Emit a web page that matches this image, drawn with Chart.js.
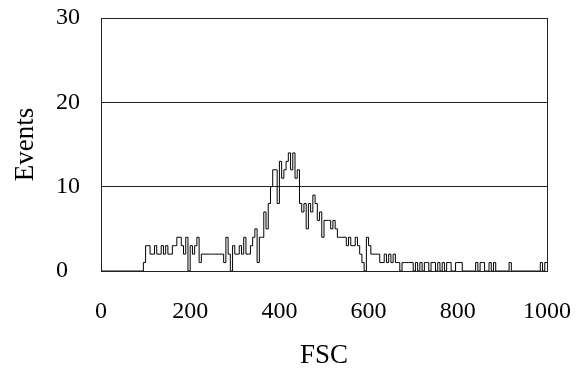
<!DOCTYPE html>
<html>
<head>
<meta charset="utf-8">
<script src="https://cdn.jsdelivr.net/npm/chart.js@4/dist/chart.umd.min.js"></script>
<style>
  html, body { margin: 0; padding: 0; background: #fff; }
  #wrap { width: 583px; height: 372px; }
</style>
</head>
<body>
<div id="wrap"><canvas id="grafico"></canvas></div>
<script>
// DADOS - contagens por canal de FSC (bins de 5 unidades, 0 a 1000)
const binWidth = 5;
const eventCounts = [
  // 0 - 95
  0,0,0,0,0,0,0,0,0,0,0,0,0,0,0,0,0,0,0,0,
  // 100 - 195
  1,3,3,2,2,3,2,2,3,2,3,2,2,3,3,4,4,3,2,4,
  // 200 - 295
  0,3,2,3,4,1,2,2,2,2,2,2,2,2,2,2,1,4,2,0,
  // 300 - 395
  3,2,2,3,2,4,2,2,3,4,5,1,4,4,7,5,8,10,12,12,
  // 400 - 495
  8,13,11,12,13,14,12,14,11,12,8,7,8,5,8,7,9,8,6,7,
  // 500 - 595
  4,6,6,6,5,6,5,4,4,4,4,3,4,3,3,4,3,2,1,0,
  // 600 - 695
  4,3,2,2,2,2,1,1,2,1,2,1,2,1,1,0,1,1,1,1,
  // 700 - 795
  1,0,1,0,1,0,1,1,0,1,1,0,1,0,1,0,1,1,0,0,
  // 800 - 895
  1,1,1,0,0,0,0,0,0,1,0,1,1,0,0,1,0,1,0,0,
  // 900 - 995
  0,0,0,0,1,0,0,0,0,0,0,0,0,0,0,0,0,0,1,0,
  // 1000
  1
];
const xTicks = [0, 200, 400, 600, 800, 1000];
const yTicks = [0, 10, 20, 30];

const pontos = eventCounts.map((c, i) => ({ x: i * binWidth, y: c }));

const fonteTicks = { family: "'Liberation Serif', 'Times New Roman', serif", size: 24 };
const fonteTitulo = { family: "'Liberation Serif', 'Times New Roman', serif", size: 27 };

new Chart(document.querySelector("#grafico"), {
  type: "line",
  data: {
    datasets: [{
      label: "Events",
      data: pontos,
      borderColor: "#000",
      borderWidth: 1,
      pointRadius: 0,
      stepped: "after",
      fill: false
    }]
  },
  options: {
    responsive: true,
    maintainAspectRatio: false,
    animation: false,
    layout: { padding: { top: 18, right: 36, bottom: 0, left: 0 } },
    plugins: { legend: { display: false }, tooltip: { enabled: false } },
    scales: {
      x: {
        type: "linear",
        min: 0,
        max: 1000,
        afterBuildTicks: (s) => { s.ticks = xTicks.map((v) => ({ value: v })); },
        afterFit: (s) => { s.height = 101; s.paddingLeft = 0; s.paddingRight = 0; },
        grid: {
          drawTicks: false,
          color: (ctx) => (ctx.tick && ctx.tick.value === 1000 ? "#222" : "rgba(0,0,0,0)"),
          lineWidth: 1
        },
        border: { display: true, color: "#222", width: 1 },
        ticks: { color: "#000", font: fonteTicks, padding: 26, maxRotation: 0, callback: (v) => String(v) },
        title: { display: true, text: "FSC", color: "#000", font: fonteTitulo, padding: { top: 0, bottom: 0 } }
      },
      yTitulo: {
        type: "linear",
        position: "left",
        weight: 1,
        min: 0,
        max: 30,
        afterFit: (s) => { s.width = 56; },
        grid: { display: false },
        border: { display: false },
        ticks: { display: false },
        title: { display: true, text: "Events", color: "#000", font: fonteTitulo, padding: { top: 10, bottom: 0 } }
      },
      y: {
        type: "linear",
        position: "left",
        weight: 0,
        min: 0,
        max: 30,
        afterBuildTicks: (s) => { s.ticks = yTicks.map((v) => ({ value: v })); },
        afterFit: (s) => { s.width = 45; s.paddingTop = 0; s.paddingBottom = 0; },
        grid: { drawTicks: false, color: "#222", lineWidth: 1 },
        border: { display: true, color: "#222", width: 1 },
        ticks: { color: "#000", font: fonteTicks, crossAlign: "far", padding: 0, callback: (v) => String(v) }
      }
    }
  }
});
</script>
</body>
</html>
